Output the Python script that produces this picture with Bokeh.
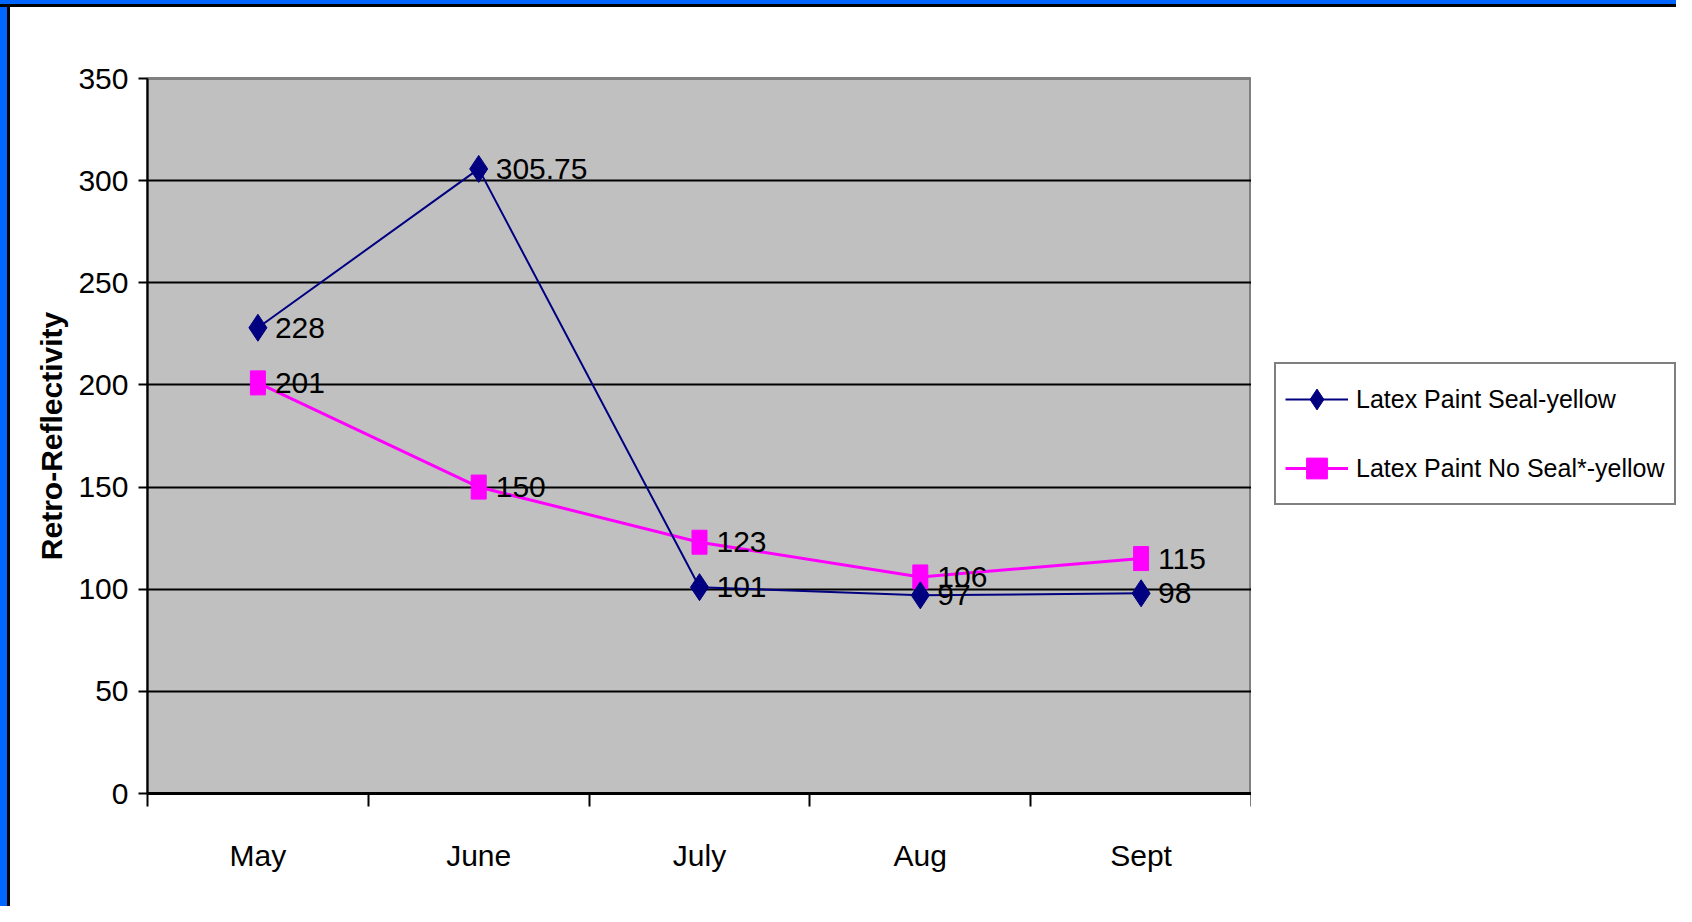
import math
from bokeh.plotting import figure
from bokeh.layouts import row, column
from bokeh.models import (Range1d, FixedTicker, Legend, LegendItem, ColumnDataSource, Div)
from bokeh.core.properties import value
from bokeh.embed import file_html
from bokeh.resources import INLINE

months = ["May", "June", "July", "Aug", "Sept"]
seal_yellow = [228, 305.75, 101, 97, 98]
noseal_yellow = [201, 150, 123, 106, 115]
y_ticks = [0, 50, 100, 150, 200, 250, 300, 350]
series_names = ["Latex Paint Seal-yellow", "Latex Paint No Seal*-yellow"]

FONT = "Liberation Sans"
NAVY = "#000080"
MAG = "#FF00FF"
BLUE = "#0066FF"

xs = [i + 0.5 for i in range(len(months))]
bounds = list(range(len(months) + 1))

def fmt(v):
    return f"{v:g}"

src1 = ColumnDataSource(dict(x=xs, y=seal_yellow, t=[fmt(v) for v in seal_yellow]))
src2 = ColumnDataSource(dict(x=xs, y=noseal_yellow, t=[fmt(v) for v in noseal_yellow]))

p = figure(frame_width=1104, frame_height=715, x_range=Range1d(0, len(months)), y_range=Range1d(0, 350),
           output_backend="svg", toolbar_location=None,
           min_border_left=137, min_border_top=71, min_border_right=0, min_border_bottom=113)
p.background_fill_color = "#C0C0C0"
p.border_fill_color = "white"
p.outline_line_color = "#808080"
p.outline_line_width = 3

# x axis
xa = p.xaxis[0]
xa.ticker = FixedTicker(ticks=xs, minor_ticks=bounds)
xa.major_label_overrides = {x: m for x, m in zip(xs, months)}
xa.major_tick_line_color = None
xa.major_tick_out = 0
xa.major_tick_in = 0
xa.minor_tick_line_color = "black"
xa.minor_tick_line_width = 2
xa.minor_tick_out = 13
xa.minor_tick_in = 0
xa.axis_line_color = "black"
xa.axis_line_width = 3
xa.major_label_text_font = FONT
xa.major_label_text_font_size = "30px"
xa.major_label_text_color = "black"
xa.major_label_standoff = 32

# y axis
ya = p.yaxis[0]
ya.ticker = FixedTicker(ticks=y_ticks)
ya.minor_tick_line_color = None
ya.major_tick_out = 9
ya.major_tick_in = 0
ya.major_tick_line_color = "black"
ya.major_tick_line_width = 2
ya.axis_line_color = "black"
ya.axis_line_width = 2
ya.major_label_text_font = FONT
ya.major_label_text_font_size = "30px"
ya.major_label_text_color = "black"
ya.major_label_standoff = 10
ya.axis_label = "Retro-Reflectivity"
ya.axis_label_text_font = FONT
ya.axis_label_text_font_style = "bold"
ya.axis_label_text_font_size = "30px"
ya.axis_label_text_color = "black"
ya.axis_label_standoff = 7

p.xgrid.grid_line_color = None
p.ygrid.ticker = FixedTicker(ticks=y_ticks)
p.ygrid.grid_line_color = "black"
p.ygrid.grid_line_width = 2

p.line("x", "y", source=src2, line_color=MAG, line_width=3)
p.rect("x", "y", source=src2, width=15, height=24, width_units="screen", height_units="screen",
       fill_color=MAG, line_color=MAG)
p.line("x", "y", source=src1, line_color=NAVY, line_width=2)
p.scatter("x", "y", source=src1, marker="diamond", size=27, fill_color=NAVY, line_color=NAVY)

for src in (src1, src2):
    p.text("x", "y", text="t", source=src, x_offset=17, text_baseline="middle", text_align="left",
           text_font=value(FONT), text_font_size="30px", text_color="black")

# legend panel (separate canvas to the right of the chart)
q = figure(width=425, height=899, x_range=Range1d(0, 1), y_range=Range1d(0, 1),
           output_backend="svg", toolbar_location=None, min_border=0)
q.axis.visible = False
q.grid.grid_line_color = None
q.outline_line_color = None
q.background_fill_color = "white"
q.border_fill_color = "white"

ql1 = q.line(x=[math.nan], y=[math.nan], line_color=NAVY, line_width=2)
qm1 = q.scatter(x=[math.nan], y=[math.nan], marker="diamond", size=27, fill_color=NAVY, line_color=NAVY)
ql2 = q.line(x=[math.nan], y=[math.nan], line_color=MAG, line_width=3)
qm2 = q.scatter(x=[math.nan], y=[math.nan], marker="square", size=19, fill_color=MAG, line_color=MAG)

legend = Legend(items=[LegendItem(label=series_names[0], renderers=[ql1, qm1]),
                       LegendItem(label=series_names[1], renderers=[ql2, qm2])],
                location=(23, 288), orientation="vertical")
legend.label_text_font = FONT
legend.label_text_font_size = "25px"
legend.label_text_color = "black"
legend.glyph_width = 63
legend.glyph_height = 52
legend.label_height = 52
legend.label_standoff = 8
legend.spacing = 17
legend.padding = 9
legend.margin = 0
legend.border_line_color = "black"
legend.border_line_width = 2
legend.background_fill_color = "white"
legend.background_fill_alpha = 1
q.add_layout(legend, "center")

top_bar = Div(text="", width=1676, height=7, margin=0,
              styles={"background": f"linear-gradient(to bottom, {BLUE} 0px, {BLUE} 4px, black 4px, black 7px)"})
left_bar = Div(text="", width=10, height=899, margin=0,
               styles={"background": f"linear-gradient(to right, {BLUE} 0px, {BLUE} 7px, black 7px, black 10px)"})

layout = column(top_bar, row(left_bar, p, q, spacing=0), spacing=0)
open("out.html", "w").write(file_html(layout, INLINE))
